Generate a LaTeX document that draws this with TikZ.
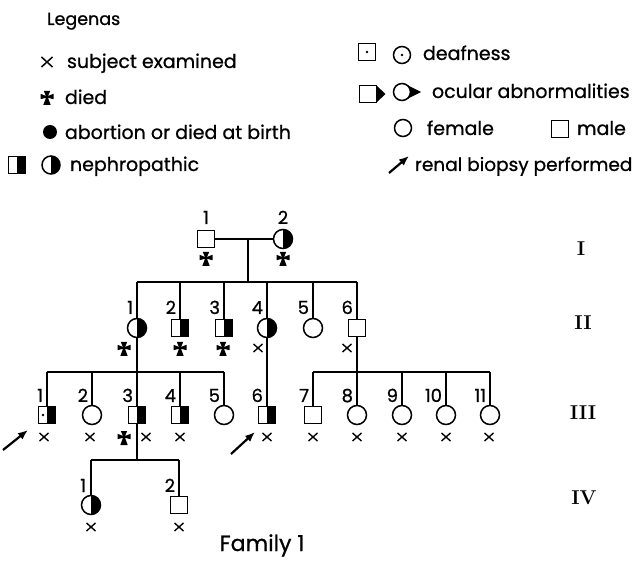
\documentclass[tikz,border=0pt]{standalone}
\usepackage{fontspec}
\newfontfamily\lab[FakeBold=0.8]{Poppins}
\usetikzlibrary{arrows.meta}
\begin{document}
\begin{tikzpicture}[x=1pt,y=-1pt,
  every node/.style={inner sep=0pt, outer sep=0pt},
  txt/.style={font=\lab\fontsize{19}{22}\selectfont, anchor=base west},
  num/.style={font=\lab\fontsize{18}{21}\selectfont, anchor=base east},
  gen/.style={font=\bfseries\fontsize{20}{24}\selectfont},
  male/.style={draw, rectangle, minimum size=17pt, line width=1.5pt},
  female/.style={draw, circle, minimum size=19pt, line width=1.5pt},
  nephro/.style={path picture={\fill (path picture bounding box.north) rectangle (path picture bounding box.south east);}},
  deaf/.style={path picture={\fill (path picture bounding box.center) circle (1.4pt);}},
  nephrodeaf/.style={path picture={
      \fill (path picture bounding box.north) rectangle (path picture bounding box.south east);
      \fill ([xshift=-4pt]path picture bounding box.center) circle (1.3pt);}},
  link/.style={line width=1.1pt},
  biopsy/.style={line width=2.2pt, -{Latex[length=10pt,width=8pt]}},
  died/.pic={\fill (-3.2,-6) -- (3.2,-6) -- (1,-1) -- (6.5,-3.2) -- (6.5,2.2) -- (1,0.8) -- (3.7,8) -- (-3.7,8) -- (-1,0.8) -- (-6.5,2.2) -- (-6.5,-3.2) -- (-1,-1) -- cycle;},
  exam/.pic={\draw[line width=1.4pt] (-4.5,-4) -- (4.5,4) (-4.5,4) -- (4.5,-4);},
  bigexam/.pic={\draw[line width=1.5pt] (-5.5,-5) -- (5.5,5) (-5.5,5) -- (5.5,-5);}
]
\useasboundingbox (0,0) rectangle (643,561);

% ---- legend, left column
\node[txt, font=\lab\fontsize{17.5}{20}\selectfont] (lgTitle) at (47,25) {Legenas};
\pic at (47,62) {bigexam};
\node[txt] (lgExam) at (67,68) {subject examined};
\pic at (47,97) {died};
\node[txt] (lgDied) at (65,104) {died};
\node[circle, fill, minimum size=14pt] (lgAbSym) at (50,132) {};
\node[txt] (lgAb) at (65,139) {abortion or died at birth};
\node[male, nephro] (lgNephM) at (17,165) {};
\node[female, nephro, minimum size=18pt] (lgNephF) at (51,165) {};
\node[txt] (lgNeph) at (70,171) {nephropathic};

% ---- legend, right column
\node[male, deaf] (lgDeafM) at (367,52) {};
\node[female, deaf, minimum size=17pt] (lgDeafF) at (402,55) {};
\node[txt] (lgDeaf) at (423,60) {deafness};
\node[male] (lgOcM) at (368,94) {};
\fill (lgOcM.north east) -- ([xshift=9pt]lgOcM.east) -- (lgOcM.south east) -- cycle;
\fill (405.9,84.4) -- (421,92) -- (405.9,99.6) -- cycle;
\node[female, fill=white, minimum size=17pt] (lgOcF) at (402,92) {};
\node[txt] (lgOc) at (432,98) {ocular abnormalities};
\node[female, minimum size=17pt] (lgFem) at (403,128) {};
\node[txt] (lgFemT) at (427,135) {female};
\node[male] (lgMal) at (560,129) {};
\node[txt] (lgMalT) at (577,135) {male};
\coordinate (lgArrA) at (389,173);
\coordinate (lgArrB) at (409,156);
\draw[biopsy] (lgArrA) -- (lgArrB);
\node[txt, font=\lab\fontsize{18.5}{22}\selectfont] (lgBio) at (415,171) {renal biopsy performed};

% ---- generation I
\node[male] (I1) at (206,239) {};
\node[female, nephro] (I2) at (283,239) {};
\node[num, anchor=base] at (206,224) {1};
\node[num, anchor=base] at (283,224) {2};
\pic at (206,258) {died};
\pic at (283,258) {died};

% ---- generation II
\node[female, nephro] (II1) at (137,328) {};
\node[male, nephro] (II2) at (180,328) {};
\node[male, nephro] (II3) at (224,328) {};
\node[female, nephro] (II4) at (267,328) {};
\node[female] (II5) at (313,328) {};
\node[male] (II6) at (357,328) {};
\foreach \n/\x in {1/137,2/180,3/224,4/267,5/313,6/357}
  \node[num] at (\x-4,314) {\n};
\pic at (124,348) {died};
\pic at (180,348) {died};
\pic at (223,348) {died};
\pic at (258,348) {exam};
\pic at (347,348) {exam};

% ---- generation III
\node[male, nephrodeaf] (III1) at (47,415) {};
\node[female] (III2) at (92,415) {};
\node[male, nephro] (III3) at (137,415) {};
\node[male, nephro] (III4) at (180,415) {};
\node[female] (III5) at (224,415) {};
\node[male, nephro] (III6) at (267,415) {};
\node[male] (III7) at (313,415) {};
\node[female] (III8) at (357,415) {};
\node[female] (III9) at (402,415) {};
\node[female] (III10) at (446,415) {};
\node[female] (III11) at (490,415) {};
\foreach \n/\x in {1/47,2/92,3/137,4/180,5/224,6/267,7/313,8/357,9/402,10/446,11/490}
  \node[num] at (\x-4,402) {\n};
\foreach \x in {44,90,146,180,267,313,357,402,446,489}
  \pic at (\x,437) {exam};
\pic at (124,437) {died};
\coordinate (bioA1) at (3,450);
\coordinate (bioB1) at (28,430);
\draw[biopsy] (bioA1) -- (bioB1);
\coordinate (bioA6) at (231,454);
\coordinate (bioB6) at (255,432);
\draw[biopsy] (bioA6) -- (bioB6);

% ---- generation IV
\node[female, nephro] (IV1) at (91,505) {};
\node[male] (IV2) at (179,505) {};
\node[num] at (86,492) {1};
\node[num] at (175,492) {2};
\pic at (91,527) {exam};
\pic at (179,527) {exam};

% ---- lines of descent
\coordinate (dI) at (248,239);
\coordinate (sI) at (248,282);
\coordinate (sII) at (0,372);
\coordinate (sIII) at (0,460);
\draw[link] (I1) -- (I2);
\draw[link] (dI) -- (sI);
\draw[link] (II1.north |- sI) -- (II6.north |- sI);
\foreach \c in {II1,II2,II3,II4,II5,II6}
  \draw[link] (\c.north) -- (\c.north |- sI);
\draw[link] (II1.south) -- (III3.north);
\draw[link] (III1.north |- sII) -- (III5.north |- sII);
\foreach \c in {III1,III2,III4,III5}
  \draw[link] (\c.north) -- (\c.north |- sII);
\draw[link] (II4.south) -- (III6.north);
\draw[link] (II6.south) -- (III8.north);
\draw[link] (III7.north |- sII) -- (III11.north |- sII);
\foreach \c in {III7,III9,III10,III11}
  \draw[link] (\c.north) -- (\c.north |- sII);
\draw[link] (III3.south) -- (III3.south |- sIII);
\draw[link] (IV1.north |- sIII) -- (IV2.north |- sIII);
\foreach \c in {IV1,IV2}
  \draw[link] (\c.north) -- (\c.north |- sIII);

% ---- generation numerals and caption
\node[gen] (gI) at (581,249) {I};
\node[gen] (gII) at (583,323) {II};
\node[gen] (gIII) at (583,413) {III};
\node[gen] (gIV) at (584,498) {IV};
\node[font=\lab\fontsize{22}{26}\selectfont, anchor=base] (cap) at (262,551) {Family 1};
\end{tikzpicture}
\end{document}
